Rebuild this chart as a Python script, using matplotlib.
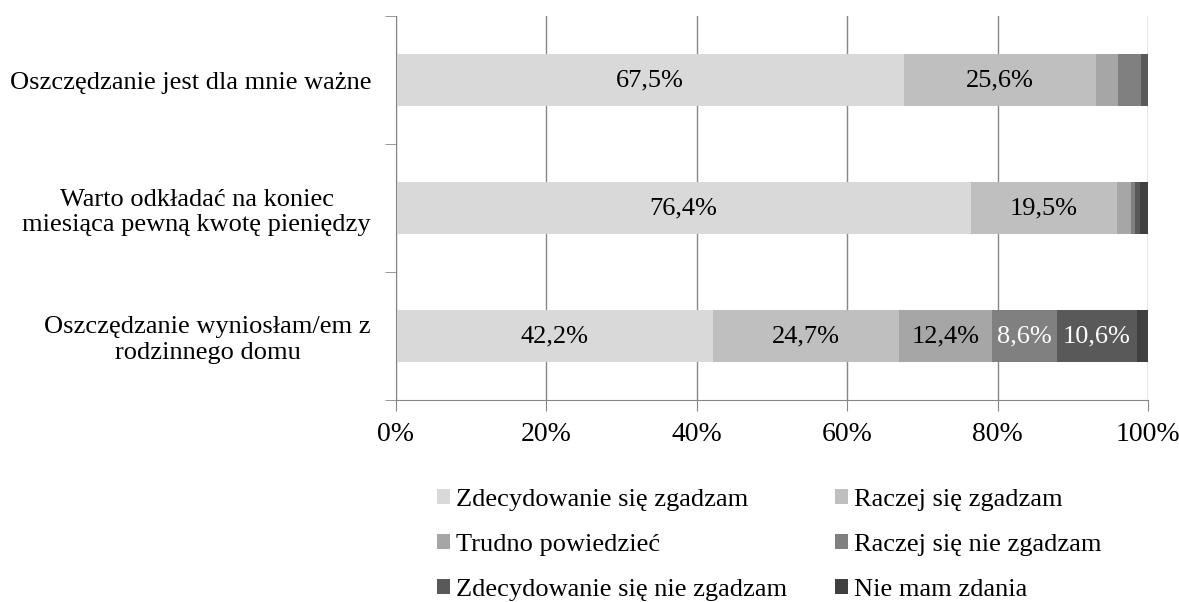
import numpy as np
from matplotlib import pyplot

pyplot.rcParams['font.family'] = ['Liberation Serif', 'DejaVu Serif']

# statements (top to bottom) and answer categories
statements = ['Oszczędzanie jest dla mnie ważne',
              'Warto odkładać na koniec\nmiesiąca pewną kwotę pieniędzy',
              'Oszczędzanie wyniosłam/em z\nrodzinnego domu']
answers = ['Zdecydowanie się zgadzam', 'Raczej się zgadzam', 'Trudno powiedzieć',
           'Raczej się nie zgadzam', 'Zdecydowanie się nie zgadzam', 'Nie mam zdania']

# percentages per answer, one value per statement
zdec_tak = [67.5, 76.4, 42.2]
raczej_tak = [25.6, 19.5, 24.7]
trudno = [2.9, 1.8, 12.4]
raczej_nie = [3.1, 0.6, 8.6]
zdec_nie = [0.9, 0.7, 10.6]
nie_mam = [0.0, 1.0, 1.5]

series = [zdec_tak, raczej_tak, trudno, raczej_nie, zdec_nie, nie_mam]
colors = ['#d9d9d9', '#bfbfbf', '#a6a6a6', '#808080', '#595959', '#404040']
txtcol = ['k', 'k', 'k', 'w', 'w', 'w']

fig = pyplot.figure(figsize=(11.79, 6.02), dpi=100)
ax = fig.add_axes([396/1179, 1-400/602, 752/1179, 384/602])

y = np.arange(len(statements))
left = np.zeros(len(statements))
bars = []
for vals, c, tc, lab in zip(series, colors, txtcol, answers):
    vals = np.array(vals)
    b = ax.barh(y, vals, left=left, height=0.4, color=c, label=lab, zorder=2)
    bars.append(b)
    for yi, v, l in zip(y, vals, left):
        if v >= 5:
            ax.text(l + v/2, yi, f'{v:.1f}%'.replace('.', ','), ha='center', va='center',
                    color=tc, fontsize=19, zorder=3)
    left += vals

ax.set_xlim(0, 100)
ax.set_ylim(2.5, -0.5)
ax.set_xticks(np.arange(0, 101, 20))
ax.set_xticklabels([f'{t}%' for t in range(0, 101, 20)], fontsize=20)
ax.set_yticks(y)
ax.set_yticklabels(statements, fontsize=19, multialignment='center')
ax.set_yticks([-0.5, 0.5, 1.5, 2.5], minor=True)
ax.tick_params(axis='y', which='major', length=0, pad=18)
ax.tick_params(axis='y', which='minor', length=8, color='#868686')
ax.tick_params(axis='x', length=8, color='#868686', pad=8)
ax.grid(axis='x', color='#868686', lw=1, zorder=0)
for s in ['top', 'right']:
    ax.spines[s].set_visible(False)
for s in ['left', 'bottom']:
    ax.spines[s].set_color('#868686')

order = [0, 2, 4, 1, 3, 5]
fig.legend([bars[i] for i in order], [answers[i] for i in order], ncol=2,
           loc='center left', bbox_to_anchor=(413/1179, 1-545/602), frameon=False,
           fontsize=19, handlelength=0.5, handleheight=0.5, handletextpad=0.23,
           columnspacing=1.8, labelspacing=0.86)

fig.savefig('out.png')
